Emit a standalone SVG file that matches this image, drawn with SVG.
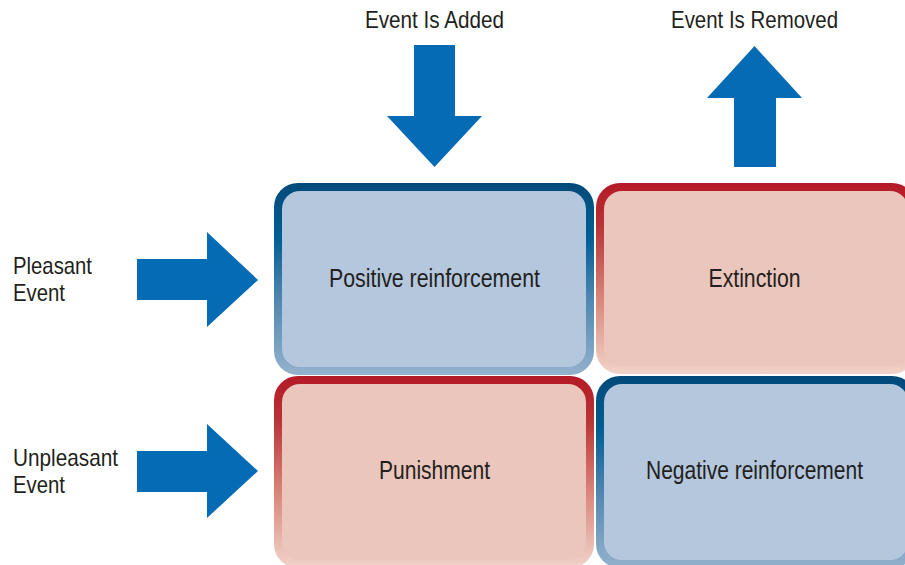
<svg xmlns="http://www.w3.org/2000/svg" width="905" height="565" viewBox="0 0 905 565">
  <defs>
    <linearGradient id="rimBlue" x1="0" y1="0" x2="0" y2="1">
      <stop offset="0" stop-color="#004a7a"/>
      <stop offset="0.28" stop-color="#005e92"/>
      <stop offset="0.6" stop-color="#4f86b0"/>
      <stop offset="1" stop-color="#94b2cd"/>
    </linearGradient>
    <linearGradient id="rimRed" x1="0" y1="0" x2="0" y2="1">
      <stop offset="0" stop-color="#b41a26"/>
      <stop offset="0.22" stop-color="#b83234"/>
      <stop offset="0.6" stop-color="#d88577"/>
      <stop offset="1" stop-color="#f1d3ca"/>
    </linearGradient>
    <style>
      .label { font-family: "Liberation Sans Narrow", "Liberation Sans", Arial, sans-serif; font-size: 24px; fill: #231f20; }
      .cell { font-family: "Liberation Sans Narrow", "Liberation Sans", Arial, sans-serif; font-size: 25px; fill: #231f20; text-anchor: middle; }
      .arrow { fill: #066bb5; }
      .blue .rim { fill: url(#rimBlue); }
      .blue .face { fill: #b4c7dd; }
      .red .rim { fill: url(#rimRed); }
      .red .face { fill: #ebc6bc; }
    </style>
  </defs>

  <rect width="905" height="565" fill="#ffffff"/>

  <!-- column and row headings -->
  <g id="heading-added">
    <text class="label" x="365" y="28" textLength="139" lengthAdjust="spacingAndGlyphs">Event Is Added</text>
  </g>
  <g id="heading-removed">
    <text class="label" x="671" y="28" textLength="167" lengthAdjust="spacingAndGlyphs">Event Is Removed</text>
  </g>
  <g id="heading-pleasant">
    <text class="label" x="13" y="274" textLength="79" lengthAdjust="spacingAndGlyphs">Pleasant</text>
    <text class="label" x="13" y="301" textLength="52" lengthAdjust="spacingAndGlyphs">Event</text>
  </g>
  <g id="heading-unpleasant">
    <text class="label" x="13" y="466" textLength="105" lengthAdjust="spacingAndGlyphs">Unpleasant</text>
    <text class="label" x="13" y="493" textLength="52" lengthAdjust="spacingAndGlyphs">Event</text>
  </g>

  <!-- block arrows -->
  <g id="connectors">
    <polygon class="arrow" points="414,45 455,45 455,116 482,116 434.5,167 387,116 414,116"/>
    <polygon class="arrow" points="734,167 776,167 776,98 802,98 754.5,46 707,98 734,98"/>
    <polygon class="arrow" points="137,259 207,259 207,232 258,280 207,327 207,300 137,300"/>
    <polygon class="arrow" points="137,451 207,451 207,424 258,471 207,518 207,492 137,492"/>
  </g>

  <!-- the four quadrants -->
  <g id="positive-reinforcement" class="blue">
    <rect class="rim" x="274" y="183" width="320" height="192" rx="24"/>
    <rect class="face" x="282" y="191" width="304" height="176" rx="18"/>
    <text class="cell" x="434.5" y="287" textLength="211" lengthAdjust="spacingAndGlyphs">Positive reinforcement</text>
  </g>
  <g id="extinction" class="red">
    <rect class="rim" x="596" y="183" width="320" height="191" rx="24"/>
    <rect class="face" x="604" y="191" width="304" height="175" rx="18"/>
    <text class="cell" x="754.5" y="287" textLength="92" lengthAdjust="spacingAndGlyphs">Extinction</text>
  </g>
  <g id="punishment" class="red">
    <rect class="rim" x="274" y="376" width="320" height="192" rx="24"/>
    <rect class="face" x="282" y="384" width="304" height="176" rx="18"/>
    <text class="cell" x="434.5" y="479" textLength="111" lengthAdjust="spacingAndGlyphs">Punishment</text>
  </g>
  <g id="negative-reinforcement" class="blue">
    <rect class="rim" x="596" y="376" width="320" height="192" rx="24"/>
    <rect class="face" x="604" y="384" width="304" height="176" rx="18"/>
    <text class="cell" x="754.5" y="479" textLength="217" lengthAdjust="spacingAndGlyphs">Negative reinforcement</text>
  </g>
</svg>
